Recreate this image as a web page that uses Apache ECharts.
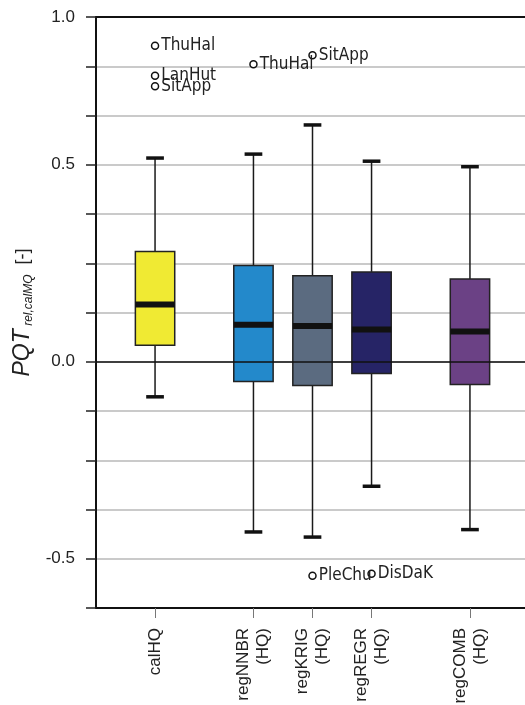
<!DOCTYPE html>
<html>
<head>
<meta charset="utf-8">
<script src="https://cdn.jsdelivr.net/npm/echarts@6/dist/echarts.min.js"></script>
<style>html,body{margin:0;padding:0;background:#fff}#c{width:525px;height:705px}</style>
</head>
<body>
<div id="c"></div>
<script>
// ---- data ----
const categories = ['calHQ', 'regNNBR\n(HQ)', 'regKRIG\n(HQ)', 'regREGR\n(HQ)', 'regCOMB\n(HQ)'];
const catPos = [3, 8, 11, 14, 19];            // positions on the x scale (0..22)
const whiskerLow = [-0.089, -0.432, -0.445, -0.316, -0.426];
const q1 = [0.042, -0.050, -0.060, -0.030, -0.058];
const median = [0.145, 0.094, 0.091, 0.082, 0.077];
const q3 = [0.280, 0.244, 0.218, 0.228, 0.210];
const whiskerHigh = [0.517, 0.527, 0.601, 0.509, 0.495];
const boxColors = ['#F0EA33', '#2389CB', '#5B6B80', '#262466', '#6B4185'];
const outlierCat = [0, 0, 0, 1, 2, 2, 3];
const outlierVal = [0.802, 0.726, 0.699, 0.755, 0.778, -0.543, -0.538];
const outlierName = ['ThuHal', 'LanHut', 'SitApp', 'ThuHal', 'SitApp', 'PleChu', 'DisDaK'];
const yTickValues = [-0.5, 0, 0.5, 0.875];
const yTickLabels = ['-0.5', '0.0', '0.5', '1.0'];

const boxData = categories.map((c, i) => [catPos[i], whiskerLow[i], q1[i], median[i], q3[i], whiskerHigh[i], i]);
const outlierData = outlierVal.map((v, i) => ({ value: [catPos[outlierCat[i]], v], name: outlierName[i] }));

const chart = echarts.init(document.getElementById('c'), null, { renderer: 'canvas' });
const sansFont = 'Liberation Sans, Arial, sans-serif';
const narrowFont = 'Liberation Sans Narrow, Arial Narrow, DejaVu Sans Condensed, sans-serif';

function renderBox(params, api) {
  const x = api.value(0);
  const lo = api.coord([x, api.value(1)]);
  const b1 = api.coord([x, api.value(2)]);
  const md = api.coord([x, api.value(3)]);
  const b3 = api.coord([x, api.value(4)]);
  const hi = api.coord([x, api.value(5)]);
  const bw = api.size([2, 0])[0];
  const cw = api.size([0.9, 0])[0];
  const cx = lo[0];
  const col = boxColors[api.value(6)];
  const stroke = { stroke: '#1a1a1a', lineWidth: 1.5 };
  return {
    type: 'group',
    children: [
      { type: 'line', shape: { x1: cx, y1: hi[1], x2: cx, y2: b3[1] }, style: stroke },
      { type: 'line', shape: { x1: cx, y1: b1[1], x2: cx, y2: lo[1] }, style: stroke },
      { type: 'line', shape: { x1: cx - cw / 2, y1: hi[1], x2: cx + cw / 2, y2: hi[1] }, style: { stroke: '#111', lineWidth: 3.5 } },
      { type: 'line', shape: { x1: cx - cw / 2, y1: lo[1], x2: cx + cw / 2, y2: lo[1] }, style: { stroke: '#111', lineWidth: 3.5 } },
      { type: 'rect', shape: { x: cx - bw / 2, y: b3[1], width: bw, height: b1[1] - b3[1] }, style: { fill: col, stroke: '#222', lineWidth: 1.5 } },
      { type: 'line', shape: { x1: cx - bw / 2, y1: md[1], x2: cx + bw / 2, y2: md[1] }, style: { stroke: '#111', lineWidth: 6 } }
    ]
  };
}

const option = {
  animation: false,
  backgroundColor: '#fff',
  grid: { left: 96, top: 17, width: 433, bottom: 97, containLabel: false, outerBoundsMode: 'none' },
  xAxis: [
    {
      type: 'value', min: 0, max: 22, position: 'bottom',
      axisLine: { onZero: false, lineStyle: { color: '#111', width: 2 } },
      axisTick: { show: true, customValues: catPos, length: 10, lineStyle: { color: '#777', width: 1 } },
      axisLabel: {
        customValues: catPos, rotate: 90, margin: 20, fontSize: 17, lineHeight: 20,
        color: '#222', fontFamily: sansFont,
        formatter: v => categories[catPos.indexOf(v)] || ''
      },
      splitLine: { show: false }
    },
    {
      type: 'value', min: 0, max: 22, position: 'top',
      axisLine: { onZero: false, lineStyle: { color: '#111', width: 2 } },
      axisTick: { show: false }, axisLabel: { show: false }, splitLine: { show: false }
    }
  ],
  yAxis: {
    type: 'value', min: -0.625, max: 0.875, interval: 0.125,
    name: '{a|PQT}{b| rel,calMQ}{c|  [-]}',
    nameLocation: 'middle', nameRotate: 90, nameGap: 58,
    nameTextStyle: {
      rich: {
        a: { fontSize: 23, fontStyle: 'italic', fontFamily: sansFont, color: '#222' },
        b: { fontSize: 12, fontStyle: 'italic', fontFamily: sansFont, color: '#222', padding: [12, 0, 0, 0] },
        c: { fontSize: 18, fontFamily: sansFont, color: '#222' }
      }
    },
    axisLine: { show: true, lineStyle: { color: '#111', width: 2 } },
    axisTick: { show: true, length: 10, lineStyle: { color: '#222', width: 1.5 } },
    axisLabel: {
      customValues: yTickValues, margin: 21, fontSize: 17, color: '#222', fontFamily: sansFont,
      formatter: v => { const i = yTickValues.findIndex(t => Math.abs(t - v) < 1e-9); return i >= 0 ? yTickLabels[i] : ''; }
    },
    splitLine: { show: true, lineStyle: { color: '#b8b8b8', width: 1.5 } }
  },
  series: [
    {
      type: 'line', data: [], z: 1, silent: true,
      markLine: {
        silent: true, symbol: 'none', label: { show: false },
        lineStyle: { color: '#111', width: 1.5, type: 'solid' },
        data: [{ yAxis: 0 }]
      }
    },
    {
      type: 'custom', z: 3, renderItem: renderBox, data: boxData,
      encode: { x: 0, y: [1, 2, 3, 4, 5] }
    },
    {
      type: 'scatter', z: 4, data: outlierData, symbol: 'circle', symbolSize: 7,
      itemStyle: { color: '#fff', borderColor: '#111', borderWidth: 1.5, opacity: 1 },
      label: {
        show: true, position: 'right', distance: 2, formatter: p => p.name,
        fontSize: 17, color: '#222', fontFamily: narrowFont
      }
    }
  ]
};
chart.setOption(option);
</script>
</body>
</html>
